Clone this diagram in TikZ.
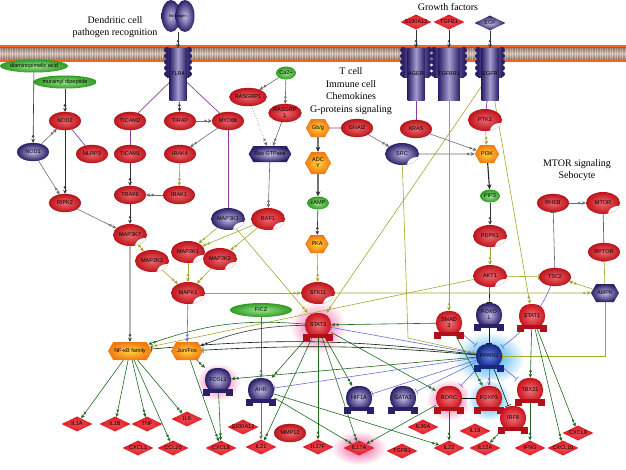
\documentclass[tikz,border=0pt]{standalone}
\usepackage{fontspec}
\setmainfont{Liberation Serif}
\setsansfont{Liberation Sans}
\usetikzlibrary{arrows.meta,shapes.geometric,shapes.symbols,calc}

\pgfdeclarelayer{back}
\pgfdeclarelayer{bg}
\pgfsetlayers{back,bg,main}

\definecolor{protred}{HTML}{E1161F}
\definecolor{protpur}{HTML}{2B1F66}
\definecolor{protpurL}{HTML}{C2BCE8}
\definecolor{chemgrn}{HTML}{2F9A24}
\definecolor{chemgrnL}{HTML}{9BE38A}
\definecolor{hexorg}{HTML}{F07A12}
\definecolor{hexorgL}{HTML}{FFD23F}
\definecolor{lnolive}{HTML}{A5A82C}
\definecolor{lnpurple}{HTML}{8E3A9E}
\definecolor{lngreen}{HTML}{1E6A22}
\definecolor{lnblue}{HTML}{6C6CD6}
\definecolor{memor}{HTML}{F26522}
\definecolor{membr}{HTML}{8C6A5A}
\definecolor{meml}{HTML}{CDBDB4}
\definecolor{tfrbase}{HTML}{B0101A}
\definecolor{tfpbase}{HTML}{2B1F66}
\definecolor{tfbbase}{HTML}{17287F}
\definecolor{tfbL}{HTML}{5F7EE8}
\definecolor{glowpink}{HTML}{F0559A}
\definecolor{glowblue}{HTML}{1FA4F2}

% node types
\tikzstyle{ttl}=[font=\rmfamily\fontsize{10}{12.5}\selectfont, align=center]
\tikzstyle{prot}=[ellipse, inner sep=0pt, minimum width=32pt, minimum height=18pt, inner color=protred!65!white, outer color=protred!85!black, draw=protred!70!black, line width=0.3pt, align=center]
\tikzstyle{protp}=[prot, inner color=protpurL, outer color=protpur, draw=protpur]
\tikzstyle{chem}=[ellipse, inner sep=0pt, minimum width=20pt, minimum height=13pt, inner color=chemgrnL, outer color=chemgrn]
\tikzstyle{kin}=[ellipse, inner sep=0pt, minimum width=34pt, minimum height=22pt, inner color=protred!65!white, outer color=protred!85!black,
  path picture={\fill[white] ([xshift=-2pt,yshift=0pt]path picture bounding box.south east) ellipse (10pt and 8pt);}]
\tikzstyle{kinp}=[kin, inner color=protpurL, outer color=protpur]
\tikzstyle{hexa}=[signal, signal to=east and west, signal pointer angle=120, inner sep=1pt, minimum width=20pt, minimum height=18pt, inner color=hexorgL, outer color=hexorg, align=center]
\tikzstyle{hexp}=[hexa, inner color=protpurL, outer color=protpur]
\tikzstyle{lig}=[diamond, aspect=2.2, inner sep=0pt, minimum width=31pt, minimum height=15pt, inner color=protred!75!white, outer color=protred]
\tikzstyle{ligp}=[lig, inner color=protpurL, outer color=protpur]
\tikzstyle{tf}=[rectangle, rounded corners=11pt, minimum width=26pt, minimum height=24pt, inner sep=1pt, align=center]
\tikzstyle{tfr}=[inner color=protred!60!white, outer color=protred!90!black]
\tikzstyle{tfp}=[inner color=protpurL, outer color=protpur]
\tikzstyle{tfb}=[inner color=tfbL, outer color=tfbbase]
\tikzstyle{rcpt}=[rectangle, minimum width=17pt, minimum height=52pt, inner sep=0pt, left color=protpur, right color=protpur, middle color=protpurL!80!protpur]

% connectors
\tikzstyle{act}=[-{Circle[open,length=2.6pt,width=2.6pt,sep=1.2pt]Stealth[length=4pt,width=3.6pt]}, line width=0.6pt]
\tikzstyle{inh}=[-{Bar[width=6pt]}, line width=0.6pt]
\tikzstyle{blk}=[act, draw=black!80]
\tikzstyle{gry}=[act, draw=gray!85!black]
\tikzstyle{thk}=[-{Stealth[length=5pt,width=4.5pt]}, draw=black!85, line width=1.1pt]
\tikzstyle{olv}=[act, draw=lnolive]
\tikzstyle{olvinh}=[inh, draw=lnolive]
\tikzstyle{pur}=[draw=lnpurple, line width=0.7pt]
\tikzstyle{dgr}=[act, draw=lngreen]
\tikzstyle{dkline}=[draw=black!75!lngreen, line width=0.7pt]
\tikzstyle{dkinh}=[inh, draw=black!70!lngreen]
\tikzstyle{gryinh}=[inh, draw=gray!80!black]
\tikzstyle{bluact}=[act, draw=lnblue]
\tikzstyle{bluinh}=[inh, draw=lnblue]

% transcription factor with its foot
\newcommand{\tfnode}[4]{%
  \node[tf, #4] (#1) at (#2) {#3};
  \fill[#4base] ($(#1.south west)+(-2,-3)$) rectangle ($(#1.south east)+(2,1)$);
  \fill[#4base] ($(#1.south west)+(-2,1)$) rectangle ($(#1.south west)+(5,4)$);
  \fill[#4base] ($(#1.south east)+(2,1)$) rectangle ($(#1.south east)+(-5,4)$);
}
% membrane receptor
\newcommand{\rcptr}[4]{%
  \foreach \yy in {50,56,...,74} {\fill[protpur] (#2-#4,\yy) circle (3pt); \fill[protpur] (#2+#4,\yy) circle (3pt);}
  \shade[left color=protpur, right color=protpur, middle color=protpurL!80!protpur] (#2-#4,48) rectangle (#2+#4,77);
  \node[rcpt] (#1) at (#2,74) {#3};
}

\begin{document}
\begin{tikzpicture}[x=1pt, y=-1pt, every node/.style={font=\sffamily\fontsize{5.5}{6}\selectfont}]
\useasboundingbox (0,0) rectangle (626,469);

\begin{pgfonlayer}{back}
  % cell membrane
  \fill[memor] (0,45) rectangle (626,62);
  \shade[top color=membr, bottom color=membr, middle color=meml] (0,47.5) rectangle (626,59.5);
  \foreach \xx in {0,2.5,...,626} \draw[white, opacity=0.3, line width=0.6pt] (\xx,47.5) -- (\xx,59.5);
  % highlights
  \shade[inner color=glowpink, outer color=white] (318,327) ellipse (28pt and 26pt);
  \shade[inner color=glowpink, outer color=white] (218,382) ellipse (22pt and 19pt);
  \shade[inner color=glowpink, outer color=white] (449,400) ellipse (23pt and 21pt);
  \shade[inner color=glowpink, outer color=white] (359,448) ellipse (28pt and 17pt);
  \shade[inner color=glowblue, outer color=white] (489,358) ellipse (36pt and 26pt);
  \shade[inner color=glowblue, outer color=white] (489,400) ellipse (22pt and 21pt);
\end{pgfonlayer}

\node[ttl] (tdc) at (115,27) {Dendritic cell\\pathogen recognition};
\node[ttl] (tgf) at (448,7) {Growth factors};
\node[ttl] (ttc) at (351,91) {T cell\\Immune cell\\Chemokines\\G-proteins signaling};
\node[ttl] (tmt) at (577,170) {MTOR signaling\\Sebocyte};

% receptors and ligands
\shade[inner color=protpurL, outer color=protpur] (171,16) ellipse (9.5pt and 16pt);
\shade[inner color=protpurL, outer color=protpur] (185,16) ellipse (9.5pt and 16pt);
\node[font=\sffamily\fontsize{4}{4}\selectfont, minimum width=28pt, minimum height=32pt] (fib) at (178,16) {fibrinogen};
\rcptr{tlr}{178}{TLR4}{11}
\rcptr{ager}{416}{AGER}{13}
\rcptr{tgfbr}{449}{TGFBR1}{15}
\rcptr{egfr}{490}{EGFR}{12}
\node[lig] (sa) at (416,22) {S100A12};
\node[lig] (tgfba) at (449,22) {TGFB1};
\node[ligp] (egf) at (490,23) {EGF};

% dendritic cell
\node[chem, minimum width=64pt] (dap) at (34,66) {diaminopimelic acid};
\node[chem, minimum width=60pt] (mdp) at (65,82) {muramyl dipeptide};
\node[prot] (nodtwo) at (65,121) {NOD2};
\node[protp] (nodone) at (33,152) {NOD1};
\node[prot] (nlrp) at (92,154) {NLRP3};
\node[prot] (ticamb) at (130,121) {TICAM2};
\node[prot] (ticama) at (130,154) {TICAM1};
\node[prot] (tirap) at (180,121) {TIRAP};
\node[prot] (irakf) at (180,154) {IRAK4};
\node[prot] (myd) at (228,121) {MYD88};
\node[prot] (traf) at (130,195) {TRAF6};
\node[prot] (iraka) at (179,195) {IRAK1};
\node[prot] (ripk) at (65,203) {RIPK2};
\node[kin] (mkkkseven) at (130,235) {MAP3K7};
\node[kin] (mkkthree) at (152,261) {MAP2K3};
\node[kin] (mkkone) at (188,252) {MAP2K1};
\node[kin] (mkktwo) at (220,259) {MAP2K2};
\node[kin] (mapkone) at (188,293) {MAPK1};
\node[kinp] (mkkkone) at (228,219) {MAP3K1};
\node[kin] (rafone) at (268,219) {RAF1};
\node[hexp, minimum width=40pt, minimum height=16pt] (ras) at (270,154) {Ras GTPase};
\node[prot] (rasgrpa) at (248,97) {RASGRP1};
\node[prot] (rasgrpb) at (285,113) {RASGRP\\1};
\node[chem] (ca) at (286,73) {Ca2+};

% T cell, G proteins
\node[hexa] (gbg) at (318,128) {Gb/g};
\node[prot] (gnai) at (357,128) {GNAI2};
\node[hexa, minimum height=22pt] (adcy) at (318,163) {ADC\\Y};
\node[chem, minimum width=22pt] (camp) at (318,203) {cAMP};
\node[hexa] (pka) at (317,244) {PKA};
\node[kin] (stk) at (318,293) {STK11};
\node[kinp] (src) at (402,154) {SRC};
\node[prot] (kras) at (416,129) {KRAS};
\node[kin] (ptk) at (485,120) {PTK2};
\node[hexa] (pik) at (487,154) {PI3K};
\node[chem] (pip) at (490,196) {PIP3};
\node[kin] (pdk) at (490,236) {PDPK1};
\node[kin] (akt) at (490,276) {AKT1};

% MTOR, sebocyte
\node[prot] (rheb) at (553,203) {RHEB};
\node[kin] (mtor) at (603,203) {MTOR};
\node[prot] (rptor) at (604,252) {RPTOR};
\node[prot] (tsc) at (555,277) {TSC2};
\node[hexp, minimum width=24pt] (ampk) at (605,293) {AMPK};

% transcription factors
\tfnode{stat3}{318,325}{STAT3}{tfr}
\tfnode{stat1}{532,316}{STAT1}{tfr}
\tfnode{smad}{449,323}{SMAD\\3}{tfr}
\tfnode{foxo}{489,315}{FOXO\\1}{tfp}
\tfnode{pparg}{489,356}{PPARG}{tfb}
\tfnode{rorc}{449,398}{RORC}{tfr}
\tfnode{foxp}{489,398}{FOXP3}{tfr}
\tfnode{tbx}{530,390}{TBX21}{tfr}
\tfnode{irf}{513,418}{IRF8}{tfr}
\tfnode{fosl}{218,380}{FOSL1}{tfp}
\tfnode{ahr}{261,390}{AHR}{tfp}
\tfnode{hif}{359,398}{HIF1A}{tfp}
\tfnode{gata}{403,398}{GATA3}{tfp}
\node[hexa, minimum width=42pt] (nfkb) at (130,351) {NF-κB family};
\node[hexa, minimum width=32pt] (junfos) at (187,351) {Jun/Fos};
\node[chem, minimum width=62pt, minimum height=14pt] (ficz) at (261,310) {FICZ};
\coordinate (srcbend) at (408,338);

% cytokines and chemokines
\node[lig] (ilonea) at (77,424) {IL1A};
\node[lig] (iloneb) at (115,424) {IL1B};
\node[lig] (tnf) at (147,424) {TNF};
\node[lig] (ilsix) at (187,419) {IL6};
\node[lig] (cxclone) at (138,448) {CXCL1};
\node[lig] (ccltw) at (173,448) {CCL20};
\node[lig] (cxcleight) at (221,448) {CXCL8};
\node[lig] (sonehundred) at (243,427) {S100A12};
\node[lig] (ilxxi) at (261,447) {IL21};
\node[prot] (mmp) at (290,433) {MMP12};
\node[lig] (ilxviif) at (318,447) {IL17F};
\node[lig] (ilxviia) at (359,448) {IL17A};
\node[lig] (tgfbb) at (402,451) {TGFB1};
\node[lig] (ilxxxvi) at (423,427) {IL36A};
\node[lig] (ilxxii) at (449,448) {IL22};
\node[lig] (ilxviii) at (475,431) {IL18};
\node[lig] (iltwelve) at (485,448) {IL12A};
\node[lig] (ifng) at (530,448) {IFNG};
\node[lig] (cxclten) at (563,448) {CXCL10};
\node[lig] (cxclnine) at (578,433) {CXCL9};

\begin{pgfonlayer}{bg}
% dendritic cell
\path[blk] (fib) edge (tlr);
\path[blk] (dap) edge (nodone);
\path[blk] (mdp) edge (nodtwo);
\path[gry] (nodone) edge (nodtwo);
\path[gry] (nodone) edge (ripk);
\path[blk] (nodtwo) edge (ripk);
\path[pur] (nodtwo) edge (nlrp);
\path[pur] (tlr) edge (ticamb);
\path[blk] (tlr) edge (tirap);
\path[pur] (tlr) edge (myd);
\path[pur] (ticamb) edge (ticama);
\path[gry] (tirap) edge (myd);
\path[gry] (myd) edge (irakf);
\path[olv] (irakf) edge (iraka);
\path[blk] (ticama) edge (traf);
\path[gry] (iraka) edge (traf);
\path[blk] (traf) edge (mkkkseven);
\path[gry] (ripk) edge (mkkkseven);
\path[blk] (mkkkseven) edge (nfkb);
% MAPK cascade
\path[olv] (mkkkseven) edge (mkkthree);
\path[olv] (mkkthree) edge (mapkone);
\path[olv] (mkkone) edge (mapkone);
\path[olv] (mkktwo) edge (mapkone);
\path[olv] (mkkkone) edge (mkkone);
\path[olv] (rafone) edge (mkkone) edge (mkktwo);
\path[pur] (myd) edge (mkkkone);
\path[gry] (ras) edge (rafone);
\path[gry, dotted] (rasgrpa) edge (ras);
\path[gry] (rasgrpb) edge (ras);
\path[gry] (ca) edge (rasgrpa) edge (rasgrpb);
% G proteins, growth factors
\path[pur] (gbg) edge (gnai);
\path[thk] (gbg) edge (adcy);
\path[thk] (adcy) edge (camp);
\path[blk] (camp) edge (pka);
\path[olv] (pka) edge (stk);
\path[gry] (gnai) edge (src);
\path[gry] (src) edge (pik);
\path[gry] (kras) edge (pik);
\path[blk] (sa) edge (ager);
\path[blk] (tgfba) edge (tgfbr);
\path[blk] (egf) edge (egfr);
\path[pur] (ager) edge (kras);
\path[pur] (egfr) edge (ptk);
\path[olv] (ptk) edge (pik);
\path[thk] (pik) edge (pip);
\path[blk] (pip) edge (pdk);
\path[olv] (pdk) edge (akt);
\path[olvinh] (akt) edge (tsc);
\path[dkinh] (akt) edge (foxo);
% MTOR
\path[gryinh] (tsc) edge (rheb);
\path[gry] (rheb) edge (mtor);
\path[pur] (mtor) edge (rptor);
\path[olvinh] (ampk) edge (rptor);
\path[olv] (ampk) edge (tsc);
\path[olv] (mapkone) edge (stk);
\path[olv] (stk) edge (ampk);
\path[olv] (akt) edge (nfkb);
\path[olv] (egfr) edge (stat3) edge (stat1);
\path[olv] (mkkkone) edge (stat3);
\path[olv] (tgfbr) edge (smad);
\draw[olv] (src) -- (srcbend) -- (pparg);
\draw[olvinh] (ampk) |- (pparg);
\path[bluact] (mapkone) edge (junfos);
% transcription
\path[gry] (ficz) edge (ahr);
\path[dgr] (smad) edge (stat3);
\path[dgr] (stat3) edge (ahr) edge (ilxxi) edge (ilxviif) edge (ilxviia) edge (hif) edge (rorc);
\path[dgr] (stat3) edge[bend right=12] (nfkb);
\path[blk] (stat3) edge[bend right=10] (junfos);
\path[bluinh] (pparg) edge (stat3);
\path[dkinh] (pparg) edge[bend right=6] (nfkb) edge[bend right=4] (junfos);
\path[dgr] (pparg) edge (fosl);
\path[bluinh] (pparg) edge (ahr) edge (hif) edge (gata) edge (rorc) edge (tbx);
\path[bluact] (pparg) edge (foxp);
\path[dkinh] (pparg) edge (irf);
\path[dkinh] (foxo) edge (pparg);
\path[bluinh] (tsc) edge[bend left=15] (pparg);
\path[bluinh] (smad) edge (pparg);
\path[dgr] (junfos) edge (fosl) edge (cxcleight);
\path[dgr] (fosl) edge (cxcleight);
\path[dgr] (nfkb) edge (ilonea) edge (iloneb) edge (tnf) edge (ilsix) edge (ccltw);
\path[gry] (ahr) edge (ilxxi);
\path[dgr] (ahr) edge (ilxviia) edge (ilxxii);
\path[dgr] (rorc) edge (ilxxii) edge (ilxviia);
\path[dkline] (rorc) edge (foxp);
\path[dgr] (smad) edge (foxp);
\path[dgr] (irf) edge (iltwelve);
\path[dgr] (tbx) edge (ifng);
\path[dgr] (stat1) edge (tbx) edge (cxclten) edge (cxclnine);
\end{pgfonlayer}
\end{tikzpicture}
\end{document}
